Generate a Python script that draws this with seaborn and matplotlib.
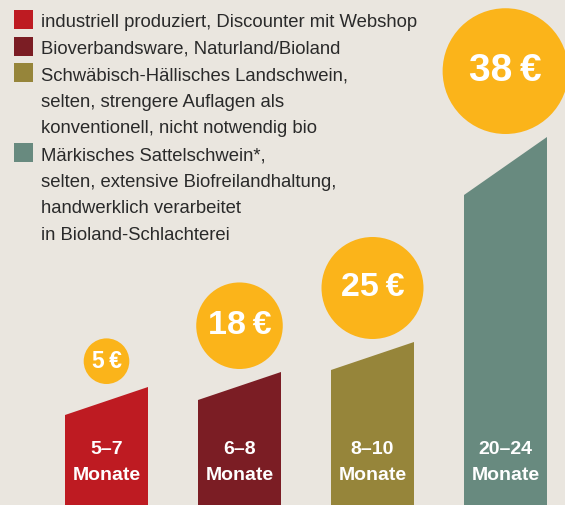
import numpy as np
import matplotlib
matplotlib.use("Agg")
import matplotlib.pyplot as plt
from matplotlib.patches import Polygon, Rectangle
import seaborn as sns

# --- data -------------------------------------------------------------
months = ["5–7", "6–8", "8–10", "20–24"]
prices = [5, 18, 25, 38]                      # Euro
height_left = [90, 105, 135, 310]             # bar height at left edge
height_right = [118, 133, 163, 368]           # bar height at right edge
legend_labels = [
    ["industriell produziert, Discounter mit Webshop"],
    ["Bioverbandsware, Naturland/Bioland"],
    ["Schwäbisch-Hällisches Landschwein,",
     "selten, strengere Auflagen als",
     "konventionell, nicht notwendig bio"],
    ["Märkisches Sattelschwein*,",
     "selten, extensive Biofreilandhaltung,",
     "handwerklich verarbeitet",
     "in Bioland-Schlachterei"],
]

# --- style ------------------------------------------------------------
bg = "#EAE6DF"
bar_colors = ["#BE1B22", "#7B1D24", "#96853A", "#688A7F"]
coin = "#FBB41A"
text_dark = "#2A2A2A"
price_fs = [16.5, 24.5, 24.5, 28]
bold_family = ["Liberation Sans", "DejaVu Sans"]

sns.set_theme(style="white")
plt.rcParams["font.family"] = ["Liberation Sans", "DejaVu Sans"]

W, H = 565, 505
fig = plt.figure(figsize=(W / 100, H / 100), dpi=100, facecolor=bg)
ax = fig.add_axes([0, 0, 1, 1], facecolor=bg)

# horizontal scale: pixels per category step, bar width in pixels
xscale = 133.0
bar_w = 83.0 / xscale
x0 = -106.5 / xscale

sns.barplot(x=months, y=height_left, hue=months, palette=bar_colors,
            width=bar_w, saturation=1, legend=False, ax=ax, linewidth=0)
for p in ax.patches:
    p.set_snap(False)

# full bar outline with slanted top, drawn over the bar body
for i, (hl, hr, c) in enumerate(zip(height_left, height_right, bar_colors)):
    ax.add_patch(Polygon([(i - bar_w / 2, 0), (i - bar_w / 2, hl),
                          (i + bar_w / 2, hr), (i + bar_w / 2, 0)],
                         closed=True, facecolor=c, edgecolor="none", lw=0,
                         zorder=2, snap=False))

# coins: area proportional to price
px_per_sqrt_euro = 10.2
radius = [px_per_sqrt_euro * np.sqrt(p) for p in prices]
coin_y = [hr + 3 + r for hr, r in zip(height_right, radius)]
to_pt2 = lambda r: (2 * r * 0.72) ** 2
sns.scatterplot(x=list(range(len(prices))), y=coin_y, size=prices,
                sizes=(to_pt2(radius[0]), to_pt2(radius[-1])),
                size_norm=(prices[0], prices[-1]),
                color=coin, linewidth=0, legend=False, ax=ax, zorder=3)

for i, (p, y) in enumerate(zip(prices, coin_y)):
    ax.text(i, y, f"{p}\u2009€", ha="center", va="center", color="white",
            fontsize=price_fs[i], fontweight="bold",
            family=bold_family, zorder=4)

# month labels inside bars
for i, m in enumerate(months):
    ax.text(i, H - 449, m, ha="center", va="center", color="white",
            fontsize=14, fontweight="bold", family=bold_family, zorder=4)
    ax.text(i, H - 475, "Monate", ha="center", va="center", color="white",
            fontsize=14, fontweight="bold", family=bold_family, zorder=4)

ax.set_xlim(x0, x0 + W / xscale)
ax.set_ylim(0, H)
ax.axis("off")

# legend drawn in pixel coordinates of the figure
tr = fig.transFigure
line_h = 26.6
baseline = 27
sq = 19
line = 0
for labels, c in zip(legend_labels, bar_colors):
    y_base = baseline + line * line_h
    fig.patches.append(Rectangle((14 / W, 1 - (y_base + 2) / H), sq / W, sq / H,
                                 transform=tr, facecolor=c, edgecolor="none"))
    for txt in labels:
        fig.text(41 / W, 1 - (baseline + line * line_h) / H, txt,
                 ha="left", va="baseline", fontsize=13.3, color=text_dark)
        line += 1

fig.savefig("out.png", dpi=100, facecolor=bg)
